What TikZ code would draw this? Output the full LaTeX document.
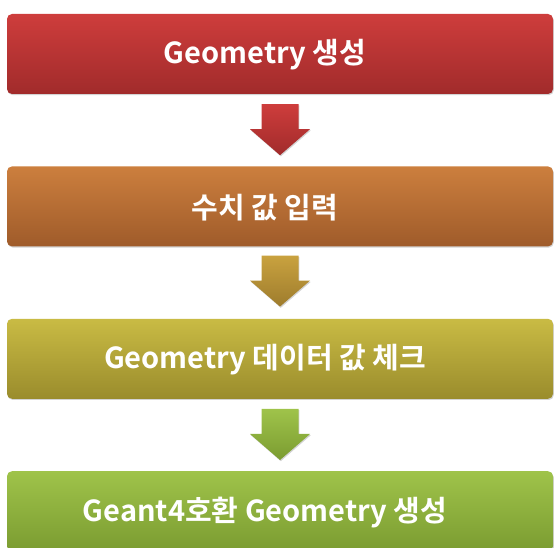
\documentclass[tikz,border=0pt]{standalone}
\usepackage{fontspec}
\setmainfont{Noto Sans CJK KR}[BoldFont={Noto Sans CJK KR Bold}]
\usepackage{xcolor}
\usetikzlibrary{positioning, calc, shadows}

\definecolor{redtop}{HTML}{CE3D3C}
\definecolor{redbot}{HTML}{A12B2B}
\definecolor{orangetop}{HTML}{CC7F3E}
\definecolor{orangebot}{HTML}{9F5B2A}
\definecolor{goldtop}{HTML}{C9A23F}
\definecolor{goldbot}{HTML}{9E7C2D}
\definecolor{olivetop}{HTML}{C9BB44}
\definecolor{olivebot}{HTML}{9A8C2C}
\definecolor{greentop}{HTML}{9FC34A}
\definecolor{greenbot}{HTML}{7B9C31}

\begin{document}
\begin{tikzpicture}[
    x=1pt, y=1pt,
    node distance=72pt,
    stepbox/.style={rectangle, rounded corners=5pt, minimum width=546pt,
      minimum height=80pt,
      drop shadow={opacity=0.35, shadow xshift=0.8pt, shadow yshift=-1.2pt}},
    steptext/.style={font=\bfseries\fontsize{29}{34}\selectfont, text=white, inner sep=0pt},
    downarrow/.style={drop shadow={opacity=0.35, shadow xshift=0.8pt, shadow yshift=-1.2pt}}
  ]
  \useasboundingbox (0,0) rectangle (555,-548);

  % process boxes
  \node[stepbox, top color=redtop, bottom color=redbot] (geo) at (280,-54) {};
  \node[stepbox, top color=orangetop, bottom color=orangebot, below=of geo] (input) {};
  \node[stepbox, top color=olivetop, bottom color=olivebot, below=of input] (check) {};
  \node[stepbox, top color=greentop, bottom color=greenbot, below=of check] (g4) {};

  % box labels, set a little left of centre
  \node[steptext] (geo-t) at ([xshift=-15pt,yshift=-1pt]geo.center) {Geometry 생성};
  \node[steptext] (input-t) at ([xshift=-15pt,yshift=-1pt]input.center) {수치 값 입력};
  \node[steptext] (check-t) at ([xshift=-15pt,yshift=-1pt]check.center) {Geometry 데이터 값 체크};
  \node[steptext] (g4-t) at ([xshift=-15pt,yshift=-1pt]g4.center) {Geant4호환 Geometry 생성};

  % block arrows between boxes
  \coordinate (a1) at ([yshift=-10pt]geo.south);
  \coordinate (a2) at ([yshift=-9pt]input.south);
  \coordinate (a3) at ([yshift=-10pt]check.south);

  \shade[downarrow, top color=redtop, bottom color=redbot]
    (a1) ++(-18.5,0) -- ++(0,-25) -- ++(-11.5,0) -- ++(30,-26) -- ++(30,26)
    -- ++(-11.5,0) -- ++(0,25) -- cycle;
  \shade[downarrow, top color=goldtop, bottom color=goldbot]
    (a2) ++(-18.5,0) -- ++(0,-25) -- ++(-11.5,0) -- ++(30,-26) -- ++(30,26)
    -- ++(-11.5,0) -- ++(0,25) -- cycle;
  \shade[downarrow, top color=greentop, bottom color=greenbot]
    (a3) ++(-18.5,0) -- ++(0,-25) -- ++(-11.5,0) -- ++(30,-26) -- ++(30,26)
    -- ++(-11.5,0) -- ++(0,25) -- cycle;
\end{tikzpicture}
\end{document}
